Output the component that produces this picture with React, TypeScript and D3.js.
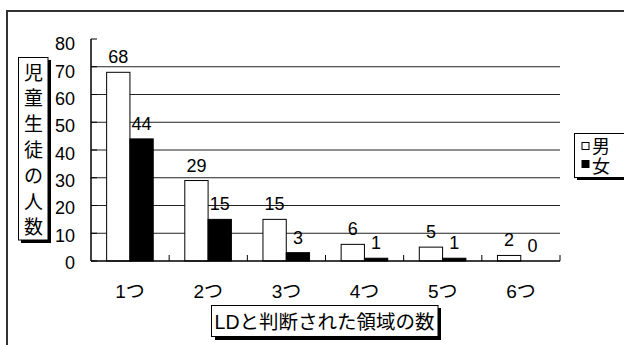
import * as d3 from 'd3';

// data
const categories = ['1つ', '2つ', '3つ', '4つ', '5つ', '6つ'];
const boys = [68, 29, 15, 6, 5, 2];
const girls = [44, 15, 3, 1, 1, 0];
const yTicks = [0, 10, 20, 30, 40, 50, 60, 70, 80];
const yTitleChars = ['児', '童', '生', '徒', 'の', '人', '数'];
const xTitle = 'LDと判断された領域の数';
const legendItems = [
  { label: '男', fill: '#fff' },
  { label: '女', fill: '#000' },
];

const W = 624;
const H = 345;
const FONT = '"Liberation Sans", Arial, "Noto Sans CJK JP", sans-serif';

export default function App() {
  const plot = { left: 91, right: 560, top: 39, bottom: 261 };

  const x = d3.scaleBand<string>()
    .domain(categories)
    .range([plot.left, plot.right]);

  const y = d3.scaleLinear()
    .domain([0, 80])
    .range([plot.bottom, plot.top]);

  // Excel places the tick labels a little off the ticks
  const yLabel = d3.scaleLinear()
    .domain([0, 80])
    .range([262.5, 44]);

  const bw = x.bandwidth();
  const barW = bw * 0.298;
  const pad = bw * 0.2;

  const series = [
    { values: boys, fill: '#fff', offset: pad },
    { values: girls, fill: '#000', offset: pad + barW },
  ];

  return (
    <svg
      width={W}
      height={H}
      style={{ position: 'absolute', left: 0, top: 0, background: '#fff' }}
      fontFamily={FONT}
    >
      {/* outer chart frame */}
      <rect x={7} y={11} width={W + 10} height={H + 10} fill="#fff" stroke="#333" strokeWidth={2} />

      {/* gridlines */}
      {yTicks.filter(t => t > 0 && t < 80).map(t => (
        <line key={'g' + t} x1={plot.left} x2={plot.right} y1={y(t)} y2={y(t)} stroke="#222" strokeWidth={1} />
      ))}

      {/* bars */}
      {series.map((s, si) =>
        s.values.map((v, i) => (
          <rect
            key={`b${si}-${i}`}
            x={(x(categories[i]) ?? 0) + s.offset}
            y={y(v)}
            width={barW}
            height={plot.bottom - y(v)}
            fill={s.fill}
            stroke="#000"
            strokeWidth={1}
          />
        ))
      )}

      {/* value labels */}
      {series.map((s, si) =>
        s.values.map((v, i) => (
          <text
            key={`l${si}-${i}`}
            x={(x(categories[i]) ?? 0) + s.offset + barW / 2}
            y={y(v) - 9}
            textAnchor="middle"
            fontSize={18}
            fill="#000"
          >
            {v}
          </text>
        ))
      )}

      {/* y axis */}
      <line x1={plot.left} x2={plot.left} y1={plot.top} y2={plot.bottom} stroke="#000" strokeWidth={1.5} />
      {yTicks.map(t => (
        <g key={'t' + t}>
          <line x1={plot.left} x2={plot.left + 6} y1={y(t)} y2={y(t)} stroke="#000" />
          <text x={75} y={yLabel(t)} dy="0.36em" textAnchor="end" fontSize={18}>{t}</text>
        </g>
      ))}

      {/* x axis */}
      <line x1={plot.left} x2={plot.right} y1={plot.bottom} y2={plot.bottom} stroke="#000" strokeWidth={1.5} />
      {categories.map((c, i) => (
        <g key={'c' + c}>
          {i > 0 && (
            <line x1={x(c)} x2={x(c)} y1={plot.bottom} y2={plot.bottom - 6} stroke="#000" />
          )}
          <text x={(x(c) ?? 0) + bw / 2} y={298} textAnchor="middle" fontSize={19}>{c}</text>
        </g>
      ))}
      <line x1={plot.right} x2={plot.right} y1={plot.bottom} y2={plot.bottom - 6} stroke="#000" />

      {/* y axis title */}
      <rect x={21} y={60} width={30} height={183} fill="#000" />
      <rect x={18.5} y={57.5} width={29.5} height={182.5} fill="#fff" stroke="#000" />
      {yTitleChars.map((ch, i) => (
        <text key={'yc' + i} x={33.5} y={79.5 + i * 25.8} textAnchor="middle" fontSize={19}>{ch}</text>
      ))}

      {/* x axis title */}
      <rect x={215} y={308} width={226} height={32} fill="#000" />
      <rect x={211.5} y={305.5} width={226.5} height={31} fill="#fff" stroke="#000" />
      <text x={324.5} y={328.5} textAnchor="middle" fontSize={19.5}>{xTitle}</text>

      {/* legend */}
      <rect x={577} y={136} width={60} height={44} fill="#000" />
      <rect x={574.5} y={133.5} width={60} height={44} fill="#fff" stroke="#000" />
      {legendItems.map((it, i) => (
        <g key={'lg' + i}>
          <rect x={582} y={142.5 + i * 18} width={7} height={7} fill={it.fill} stroke="#000" />
          <text x={592} y={152.5 + i * 20} fontSize={18}>{it.label}</text>
        </g>
      ))}
    </svg>
  );
}
